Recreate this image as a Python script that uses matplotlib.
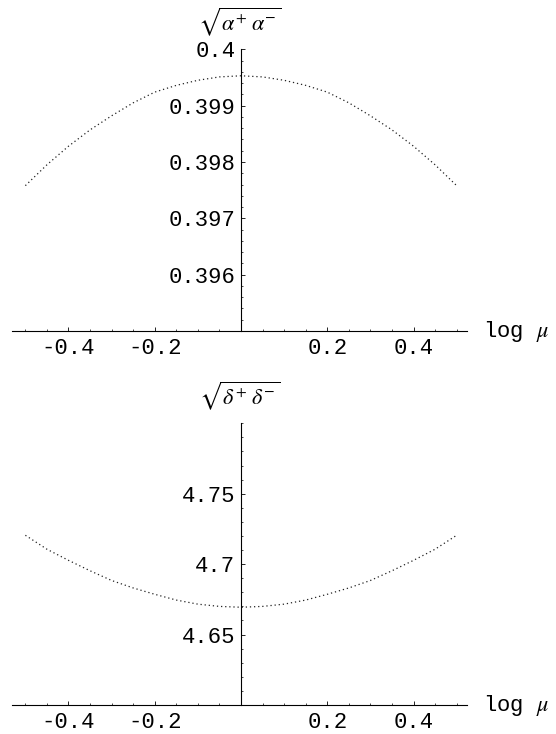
import numpy as np
from matplotlib import pyplot as plt
from matplotlib.ticker import FixedLocator, FuncFormatter

plt.rcParams['axes.unicode_minus'] = False
plt.rcParams['mathtext.fontset'] = 'stix'
plt.rcParams['font.family'] = ['Liberation Mono', 'DejaVu Sans Mono']

# log mu grid
log_mu = [-0.5, -0.45, -0.4, -0.35, -0.3, -0.25, -0.2, -0.15, -0.1, -0.05, 0.0,
          0.05, 0.1, 0.15, 0.2, 0.25, 0.3, 0.35, 0.4, 0.45, 0.5]

# sqrt(alpha+ alpha-)
alpha_vals = [0.39758, 0.39795, 0.39828, 0.39857, 0.39882, 0.39905, 0.39924,
              0.39936, 0.39945, 0.39951, 0.39953,
              0.39951, 0.39945, 0.39936, 0.39924, 0.39905, 0.39882, 0.39857,
              0.39828, 0.39795, 0.39758]

# sqrt(delta+ delta-)
delta_vals = [4.7205, 4.7106, 4.7027, 4.6953, 4.6884, 4.6831, 4.6786,
              4.6745, 4.6716, 4.6700, 4.6694,
              4.6700, 4.6716, 4.6745, 4.6786, 4.6831, 4.6884, 4.6953,
              4.7027, 4.7106, 4.7205]

x_major = [-0.4, -0.2, 0.2, 0.4]
x_minor = [v for v in np.round(np.arange(-0.5, 0.51, 0.05), 2) if v not in x_major and v != 0]

top_ylim = (0.395, 0.4)
top_major = [0.396, 0.397, 0.398, 0.399, 0.4]
top_minor = np.round(np.arange(0.3952, 0.40001, 0.0002), 5)

bot_ylim = (4.6, 4.8)
bot_major = [4.65, 4.7, 4.75]
bot_minor = np.round(np.arange(4.61, 4.801, 0.01), 3)

fig = plt.figure(figsize=(5.56, 7.34), dpi=100)
W, H = 556, 734


def panel(rect, yvals, ylim, major, minor, ylabel):
    ax = fig.add_axes(rect)
    ax.plot(log_mu, yvals, color='#222222', lw=0.9, linestyle=(0, (1, 2.3)))
    ax.set_xlim(-0.531, 0.524)
    ax.set_ylim(*ylim)
    ax.patch.set_visible(False)

    for s in ['top', 'right']:
        ax.spines[s].set_visible(False)
    ax.spines['left'].set_position(('data', 0))
    for s in ['left', 'bottom']:
        ax.spines[s].set_linewidth(0.8)

    ax.xaxis.set_major_locator(FixedLocator(x_major))
    ax.xaxis.set_minor_locator(FixedLocator(x_minor))
    ax.yaxis.set_major_locator(FixedLocator(major))
    ax.yaxis.set_minor_locator(FixedLocator([m for m in minor if m not in major]))
    fmt = FuncFormatter(lambda v, p: '%g' % v)
    ax.xaxis.set_major_formatter(fmt)
    ax.yaxis.set_major_formatter(fmt)

    ax.tick_params(which='major', direction='in', length=3, width=0.6, labelsize=16)
    ax.tick_params(which='minor', direction='in', length=1.6, width=0.5)
    ax.tick_params(axis='x', which='major', pad=5)
    ax.tick_params(axis='y', which='major', pad=4)

    # axis labels, Mathematica style
    ax.annotate(ylabel, xy=(0, ylim[1]), xytext=(-1, 20), textcoords='offset points',
                ha='center', va='center', fontsize=16, annotation_clip=False)
    ax.text(0.560, ylim[0], r'log $\mu$', ha='left', va='center', fontsize=16)
    return ax


left = 12 / W
width = 455 / W
height = 281.7 / H
panel([left, 1 - 331 / H, width, height], alpha_vals, top_ylim, top_major, top_minor,
      r'$\sqrt{\alpha^{+}\;\alpha^{-}}$')
panel([left, 1 - 705 / H, width, height], delta_vals, bot_ylim, bot_major, bot_minor,
      r'$\sqrt{\delta^{+}\;\delta^{-}}$')

fig.savefig('out.png', dpi=100)
